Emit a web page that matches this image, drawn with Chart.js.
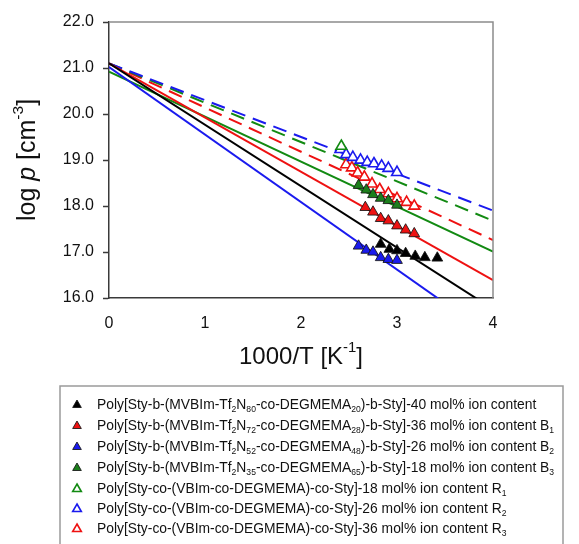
<!DOCTYPE html>
<html>
<head>
<meta charset="utf-8">
<script src="https://cdn.jsdelivr.net/npm/chart.js@4.4.0/dist/chart.umd.min.js"></script>
<style>
  html, body { margin: 0; padding: 0; background: #fff; }
  #wrap { width: 579px; height: 544px; position: relative; }
</style>
</head>
<body>
<div id="wrap"><canvas id="chart"></canvas></div>
<script>
// ─── Data ────────────────────────────────────────────────
// fitted lines, value of log p at 1000/T = 0 and 1000/T = 4
const fitX        = [0, 4];
const fitB40      = [21.10, 15.76];
const fitB36      = [21.10, 16.39];
const fitB26      = [21.02, 15.15];
const fitB18      = [20.92, 17.01];
const fitR26      = [21.10, 17.90];
const fitR18      = [21.10, 17.68];
const fitR36      = [21.10, 17.26];

// measured points
const b40X = [2.83, 2.92, 3.00, 3.09, 3.19, 3.29, 3.42];
const b40Y = [17.17, 17.06, 17.03, 16.97, 16.91, 16.88, 16.87];
const b36X = [2.67, 2.75, 2.83, 2.91, 3.00, 3.09, 3.18];
const b36Y = [17.97, 17.87, 17.73, 17.68, 17.57, 17.48, 17.40];
const b26X = [2.60, 2.68, 2.75, 2.83, 2.91, 3.00];
const b26Y = [17.13, 17.04, 17.00, 16.88, 16.84, 16.82];
const b18X = [2.60, 2.68, 2.75, 2.83, 2.91, 3.00];
const b18Y = [18.45, 18.35, 18.25, 18.17, 18.12, 18.02];
const r18X = [2.42];
const r18Y = [19.30];
const r26X = [2.41, 2.47, 2.54, 2.62, 2.69, 2.76, 2.84, 2.91, 3.00];
const r26Y = [19.23, 19.12, 19.06, 19.00, 18.95, 18.92, 18.87, 18.82, 18.73];
const r36X = [2.47, 2.53, 2.59, 2.66, 2.74, 2.82, 2.91, 3.00, 3.10, 3.18];
const r36Y = [18.90, 18.83, 18.72, 18.63, 18.48, 18.36, 18.27, 18.16, 18.08, 18.00];

const yTicks = [16, 17, 18, 19, 20, 21, 22];
const xTicks = [0, 1, 2, 3, 4];

// legend rows: [text, style] pieces, n = normal, b = subscript
const legendRows = [
  [['Poly[Sty-b-(MVBIm-Tf', 'n'], ['2', 'b'], ['N', 'n'], ['80', 'b'], ['-co-DEGMEMA', 'n'], ['20', 'b'], [')-b-Sty]-40 mol% ion content', 'n']],
  [['Poly[Sty-b-(MVBIm-Tf', 'n'], ['2', 'b'], ['N', 'n'], ['72', 'b'], ['-co-DEGMEMA', 'n'], ['28', 'b'], [')-b-Sty]-36 mol% ion content', 'n'], [' B', 'n'], ['1', 'b']],
  [['Poly[Sty-b-(MVBIm-Tf', 'n'], ['2', 'b'], ['N', 'n'], ['52', 'b'], ['-co-DEGMEMA', 'n'], ['48', 'b'], [')-b-Sty]-26 mol% ion content', 'n'], [' B', 'n'], ['2', 'b']],
  [['Poly[Sty-b-(MVBIm-Tf', 'n'], ['2', 'b'], ['N', 'n'], ['35', 'b'], ['-co-DEGMEMA', 'n'], ['65', 'b'], [')-b-Sty]-18 mol% ion content', 'n'], [' B', 'n'], ['3', 'b']],
  [['Poly[Sty-co-(VBIm-co-DEGMEMA)-co-Sty]-18 mol% ion content ', 'n'], ['R', 'n'], ['1', 'b']],
  [['Poly[Sty-co-(VBIm-co-DEGMEMA)-co-Sty]-26 mol% ion content ', 'n'], ['R', 'n'], ['2', 'b']],
  [['Poly[Sty-co-(VBIm-co-DEGMEMA)-co-Sty]-36 mol% ion content ', 'n'], ['R', 'n'], ['3', 'b']],
];

// ─── Styles ──────────────────────────────────────────────
const C_BLACK = '#000000';
const C_RED   = '#ee1111';
const C_BLUE  = '#1a1aee';
const C_GREEN = '#128a12';
const FONT    = 'Arial, "Liberation Sans", sans-serif';

const toXY = (xs, ys) => xs.map((x, i) => ({ x, y: ys[i] }));

function fitLine(vals, color, dashed) {
  return {
    type: 'line',
    data: toXY(fitX, vals),
    borderColor: color,
    borderWidth: 2,
    borderDash: dashed ? [14, 8] : [],
    pointRadius: 0,
    fill: false,
    order: 2,
    clip: 0,
  };
}

function markers(xs, ys, color, filled) {
  return {
    type: 'scatter',
    data: toXY(xs, ys),
    pointStyle: 'triangle',
    pointRadius: 6.2,
    pointBackgroundColor: filled ? color : '#ffffff',
    pointBorderColor: filled ? 'rgba(20,20,20,0.85)' : color,
    pointBorderWidth: filled ? 1 : 1.6,
    order: 1,
  };
}

const pointSets = [
  markers(b40X, b40Y, C_BLACK, true),
  markers(b36X, b36Y, C_RED, true),
  markers(b26X, b26Y, C_BLUE, true),
  markers(b18X, b18Y, '#1c7f1c', true),
  markers(r18X, r18Y, C_GREEN, false),
  markers(r26X, r26Y, C_BLUE, false),
  markers(r36X, r36Y, C_RED, false),
];

// ─── Rich text helper (sub/superscript, italic) ──────────
function richWidth(ctx, parts, size) {
  let w = 0;
  parts.forEach(([t, s]) => {
    const fs = (s === 'b' || s === 'p') ? size * 0.62 : size;
    ctx.font = (s === 'i' ? 'italic ' : '') + fs + 'px ' + FONT;
    w += ctx.measureText(t).width;
  });
  return w;
}

function drawRich(ctx, parts, x, y, size, align) {
  let cx = align === 'center' ? x - richWidth(ctx, parts, size) / 2 : x;
  ctx.textBaseline = 'middle';
  ctx.textAlign = 'left';
  parts.forEach(([t, s]) => {
    const fs = (s === 'b' || s === 'p') ? size * 0.62 : size;
    const dy = s === 'b' ? size * 0.3 : s === 'p' ? -size * 0.38 : 0;
    ctx.font = (s === 'i' ? 'italic ' : '') + fs + 'px ' + FONT;
    ctx.fillText(t, cx, y + dy);
    cx += ctx.measureText(t).width;
  });
}

const decorPlugin = {
  id: 'decor',
  afterDraw(chart) {
    const { ctx, chartArea: a } = chart;
    ctx.save();

    // top and right frame
    ctx.strokeStyle = '#8c8c8c';
    ctx.lineWidth = 1.5;
    ctx.beginPath();
    ctx.moveTo(a.left, a.top);
    ctx.lineTo(a.right, a.top);
    ctx.lineTo(a.right, a.bottom);
    ctx.stroke();

    // axis titles
    ctx.fillStyle = '#111';
    drawRich(ctx, [['1000/T [K', 'n'], ['-1', 'p'], [']', 'n']], (a.left + a.right) / 2, 357, 24, 'center');
    ctx.save();
    ctx.translate(28, (a.top + a.bottom) / 2);
    ctx.rotate(-Math.PI / 2);
    drawRich(ctx, [['log ', 'n'], ['p', 'i'], [' [cm', 'n'], ['-3', 'p'], [']', 'n']], 0, 0, 25, 'center');
    ctx.restore();

    // legend box
    ctx.strokeStyle = '#9a9a9a';
    ctx.lineWidth = 1.5;
    ctx.strokeRect(60, 386, 503, 200);

    const rowY = [405, 426, 447, 468, 489, 509, 529];
    legendRows.forEach((parts, i) => {
      const ds = pointSets[i];
      const r = 5;
      ctx.fillStyle = ds.pointBackgroundColor;
      ctx.strokeStyle = ds.pointBorderColor;
      ctx.lineWidth = ds.pointBorderWidth;
      ctx.beginPath();
      ctx.moveTo(77, rowY[i] - r);
      ctx.lineTo(77 + r * 0.866, rowY[i] + r * 0.5);
      ctx.lineTo(77 - r * 0.866, rowY[i] + r * 0.5);
      ctx.closePath();
      ctx.fill();
      ctx.stroke();
      ctx.fillStyle = '#111';
      drawRich(ctx, parts, 97, rowY[i], 13.85, 'left');
    });

    ctx.restore();
  },
};

// ─── Chart ───────────────────────────────────────────────
new Chart(document.getElementById('chart'), {
  type: 'scatter',
  data: {
    datasets: [
      ...pointSets,
      fitLine(fitB40, C_BLACK, false),
      fitLine(fitB36, C_RED, false),
      fitLine(fitB26, C_BLUE, false),
      fitLine(fitB18, C_GREEN, false),
      fitLine(fitR26, C_BLUE, true),
      fitLine(fitR18, C_GREEN, true),
      fitLine(fitR36, C_RED, true),
    ],
  },
  options: {
    responsive: true,
    maintainAspectRatio: false,
    animation: false,
    layout: { padding: { left: 0, top: 22, right: 86, bottom: 156 } },
    plugins: { legend: { display: false }, tooltip: { enabled: false } },
    scales: {
      x: {
        type: 'linear',
        min: 0, max: 4,
        afterBuildTicks: (s) => { s.ticks = xTicks.map(v => ({ value: v })); },
        afterFit: (s) => { s.height = 90; },
        grid: { drawOnChartArea: false, drawTicks: false },
        border: { color: '#3a3a3a', width: 1.5 },
        ticks: { color: '#111', padding: 16, font: { size: 16, family: FONT }, callback: v => String(v) },
      },
      y: {
        type: 'linear',
        min: 16, max: 22,
        afterBuildTicks: (s) => { s.ticks = yTicks.map(v => ({ value: v })); },
        afterFit: (s) => { s.width = 109; },
        grid: { drawOnChartArea: false, drawTicks: true, tickLength: 6, color: '#3a3a3a', tickWidth: 1.5 },
        border: { color: '#3a3a3a', width: 1.5 },
        ticks: { color: '#111', padding: 9, font: { size: 16, family: FONT }, callback: v => v.toFixed(1) },
      },
    },
  },
  plugins: [decorPlugin],
});
</script>
</body>
</html>
